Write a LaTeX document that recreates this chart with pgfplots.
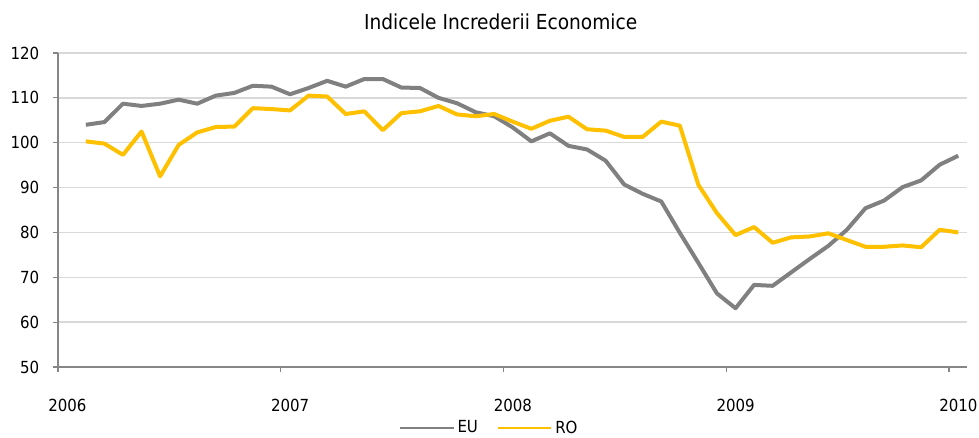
\documentclass[border=0pt]{standalone}
\usepackage{fontspec}
\setmainfont{DejaVu Sans Condensed}
\usepackage{pgfplots}
\pgfplotsset{compat=1.18}
\definecolor{eugray}{HTML}{808080}
\definecolor{roy}{HTML}{FFC000}
\definecolor{gridc}{HTML}{D9D9D9}
\definecolor{axc}{HTML}{868686}
\begin{document}
\begin{tikzpicture}
\useasboundingbox (-43.5pt,-52.5pt) rectangle (690.75pt,275.25pt);
\begin{axis}[
  at={(0,0)}, anchor=south west,
  scale only axis,
  width=681.75pt, height=235.5pt,
  xmin=0, xmax=48.97, ymin=50, ymax=120,
  xtick={0,12,24,36,48},
  xticklabels={2006,2007,2008,2009,2010},
  ytick={50,60,70,80,90,100,110,120},
  axis x line*=bottom, axis y line*=left,
  axis line style={axc, line width=1pt, -},
  tick style={axc, line width=0.8pt},
  tick align=outside,
  major tick length=4pt,
  ymajorgrids,
  grid style={gridc, line width=1pt},
  every tick label/.append style={font=\fontsize{12.5}{14}\selectfont, text=black},
  /pgf/number format/assume math mode=true,
  xticklabel style={yshift=-16.5pt, xshift=7pt},
  yticklabel style={xshift=-6.5pt},
  title={Indicele Increderii Economice},
  title style={font=\fontsize{15.5}{18}\selectfont, at={(axis description cs:0.487,1)}, anchor=south, yshift=8pt},
  legend columns=2,
  legend style={draw=none, fill=none, font=\fontsize{12.5}{14}\selectfont,
    at={(axis description cs:0.474,-0.194)}, anchor=center,
    nodes={inner sep=1pt},
    /tikz/every odd column/.append style={column sep=1pt}},
  legend image code/.code={\draw[#1, line width=2pt] (0pt,0pt) -- (40pt,0pt);},
]
\addplot[eugray, line width=3pt, line join=round] coordinates {
(1.5,104.0) (2.5,104.6) (3.5,108.7) (4.5,108.2) (5.5,108.7) (6.5,109.6)
(7.5,108.7) (8.5,110.5) (9.5,111.1) (10.5,112.7) (11.5,112.5) (12.5,110.8)
(13.5,112.2) (14.5,113.8) (15.5,112.5) (16.5,114.2) (17.5,114.2) (18.5,112.3)
(19.5,112.2) (20.5,110.0) (21.5,108.8) (22.5,106.8) (23.5,105.9) (24.5,103.4)
(25.5,100.3) (26.5,102.1) (27.5,99.3) (28.5,98.5) (29.5,96.0) (30.5,90.7)
(31.5,88.6) (32.5,86.9) (33.5,79.9) (34.5,73.2) (35.5,66.4) (36.5,63.1)
(37.5,68.3) (38.5,68.1) (39.5,71.1) (40.5,74.1) (41.5,77.0) (42.5,80.6)
(43.5,85.4) (44.5,87.1) (45.5,90.1) (46.5,91.6) (47.5,95.1) (48.5,97.1)
};
\addlegendentry{EU\rule{13pt}{0pt}}
\addplot[roy, line width=3pt, line join=round] coordinates {
(1.5,100.3) (2.5,99.8) (3.5,97.3) (4.5,102.5) (5.5,92.5) (6.5,99.5)
(7.5,102.3) (8.5,103.5) (9.5,103.6) (10.5,107.7) (11.5,107.5) (12.5,107.2)
(13.5,110.5) (14.5,110.3) (15.5,106.4) (16.5,107.0) (17.5,102.8) (18.5,106.6)
(19.5,107.0) (20.5,108.2) (21.5,106.3) (22.5,105.9) (23.5,106.4) (24.5,104.7)
(25.5,103.1) (26.5,104.9) (27.5,105.8) (28.5,103.0) (29.5,102.7) (30.5,101.3)
(31.5,101.3) (32.5,104.7) (33.5,103.8) (34.5,90.6) (35.5,84.3) (36.5,79.4)
(37.5,81.2) (38.5,77.7) (39.5,78.9) (40.5,79.1) (41.5,79.8) (42.5,78.3)
(43.5,76.8) (44.5,76.8) (45.5,77.1) (46.5,76.7) (47.5,80.6) (48.5,80.0)
};
\addlegendentry{RO}
\end{axis}
\end{tikzpicture}
\end{document}
